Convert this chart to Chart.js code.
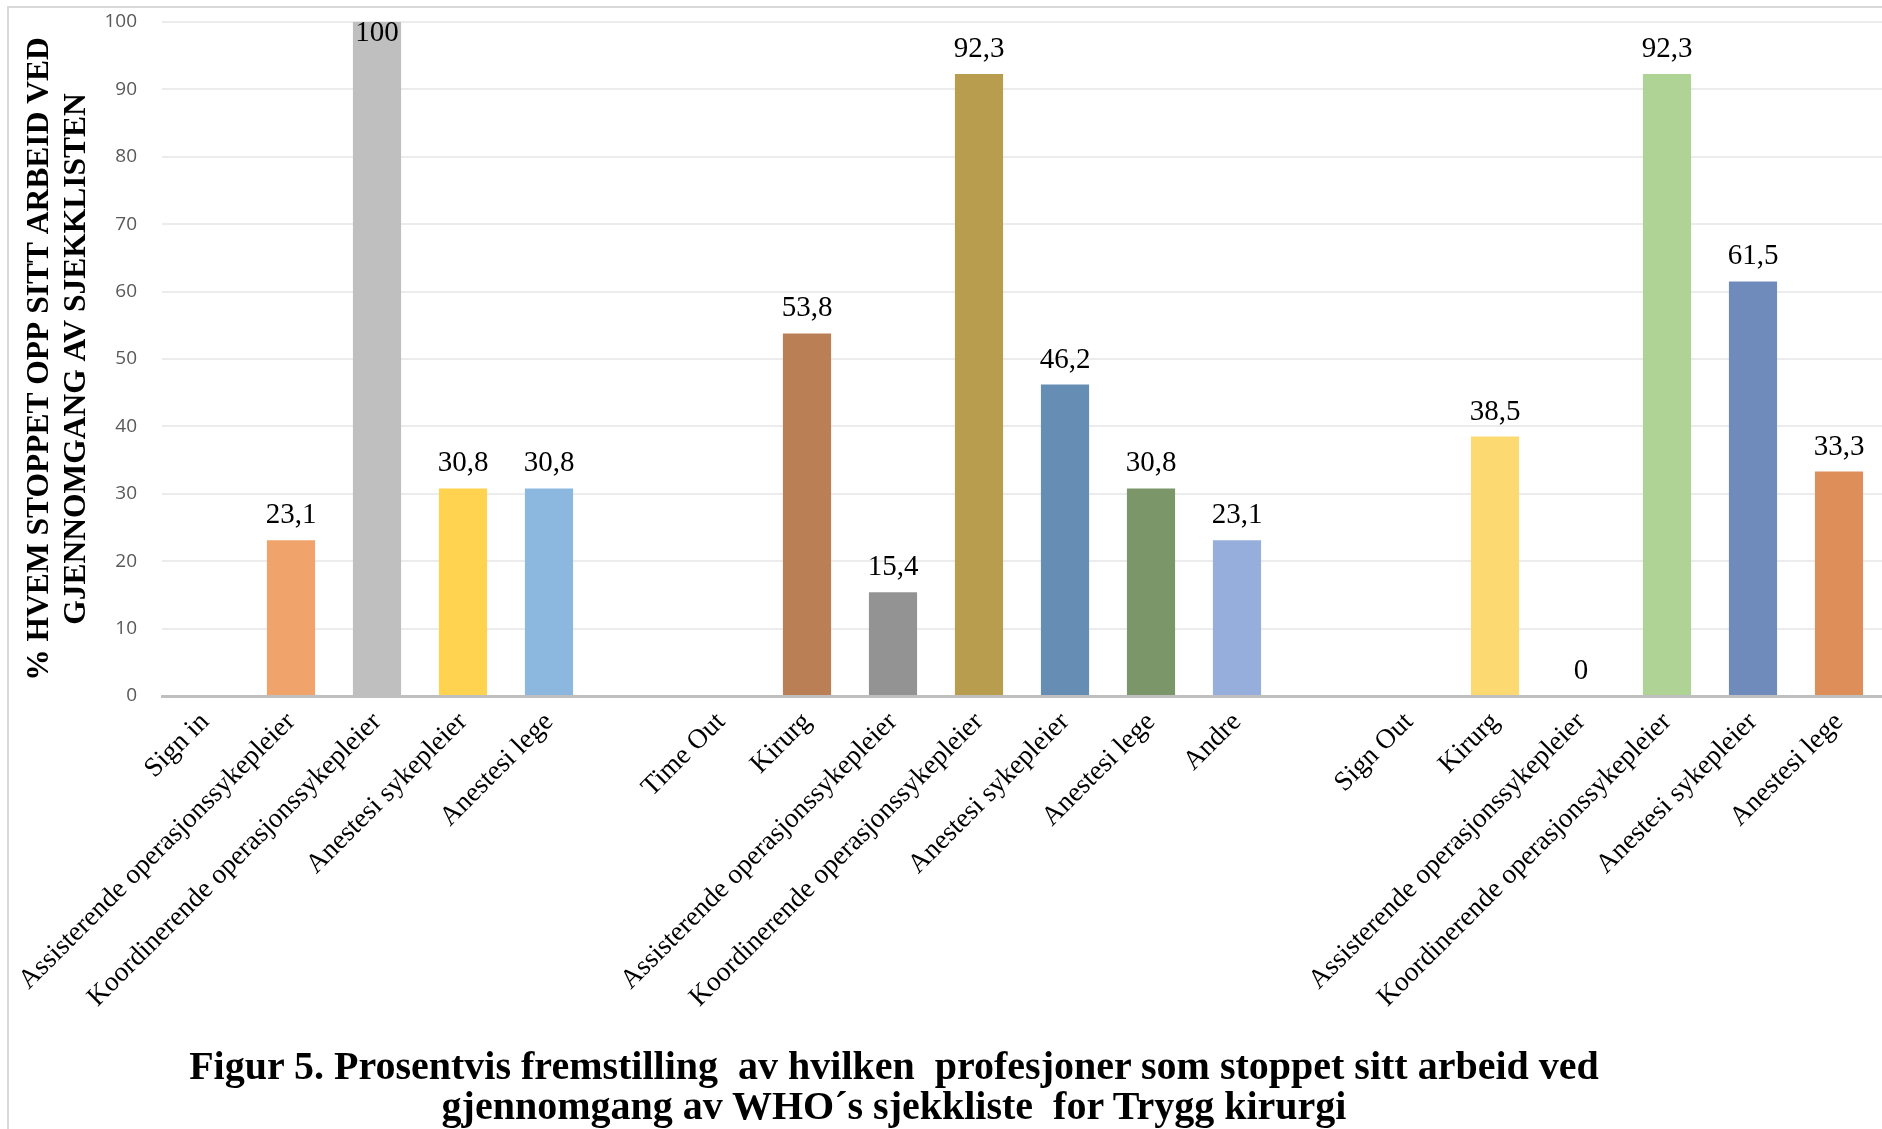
<!DOCTYPE html>
<html>
<head>
<meta charset="utf-8">
<title>Figur 5</title>
<script src="https://cdn.jsdelivr.net/npm/chart.js@4.4.0/dist/chart.umd.min.js"></script>
<style>
  html, body { margin: 0; padding: 0; background: #fff; }
  #wrap { position: relative; width: 1882px; height: 1129px; overflow: hidden; }
  #frame { position: absolute; left: 7px; top: 6px; width: 1900px; height: 1200px;
           border-left: 2px solid #d9d9d9; border-top: 2px solid #d9d9d9; }
  #chartBox { position: absolute; left: 0; top: 0; width: 1882px; height: 1129px; }
  #caption { position: absolute; left: 0; top: 1046px; width: 1788px; text-align: center;
             font: bold 40px "Liberation Serif", "Times New Roman", serif; line-height: 40px;
             white-space: pre; color: #000; }
</style>
</head>
<body>
<div id="wrap">
  <div id="frame"></div>
  <div id="chartBox"><canvas id="grafFigur5"></canvas></div>
  <div id="caption">Figur 5. Prosentvis fremstilling  av hvilken  profesjoner som stoppet sitt arbeid ved
gjennomgang av WHO´s sjekkliste  for Trygg kirurgi</div>
</div>

<script>
// kategorier langs x-aksen (tomme strenger = mellomrom mellom fasene)
const kategorier = [
  "Sign in", "Assisterende operasjonssykepleier", "Koordinerende operasjonssykepleier",
  "Anestesi sykepleier", "Anestesi lege", "",
  "Time Out", "Kirurg", "Assisterende operasjonssykepleier", "Koordinerende operasjonssykepleier",
  "Anestesi sykepleier", "Anestesi lege", "Andre", "",
  "Sign Out", "Kirurg", "Assisterende operasjonssykepleier", "Koordinerende operasjonssykepleier",
  "Anestesi sykepleier", "Anestesi lege"
];

// prosent som stoppet opp (null = ingen stolpe)
const verdier = [
  null, 23.1, 100, 30.8, 30.8, null,
  null, 53.8, 15.4, 92.3, 46.2, 30.8, 23.1, null,
  null, 38.5, 0, 92.3, 61.5, 33.3
];

const farger = [
  "#fff", "#f0a46c", "#bfbfbf", "#ffd24f", "#8cb8e0", "#fff",
  "#fff", "#ba7f55", "#939393", "#b89d4e", "#668eb4", "#7b9669", "#95aedb", "#fff",
  "#fff", "#fcda71", "#bfbfbf", "#aed395", "#6f8bbc", "#de8e59"
];

const yMin = 0, yMax = 100, ySteg = 10;

const yTittel = ["% HVEM STOPPET OPP SITT ARBEID VED", "GJENNOMGANG AV SJEKKLISTEN"];

// tall over stolpene, med komma som desimaltegn
const verdiEtiketter = {
  id: "verdiEtiketter",
  afterDatasetsDraw(chart) {
    const ctx = chart.ctx;
    const meta = chart.getDatasetMeta(0);
    ctx.save();
    ctx.font = '29px "Liberation Serif", serif';
    ctx.fillStyle = "#000";
    ctx.textAlign = "center";
    ctx.textBaseline = "alphabetic";
    meta.data.forEach((bar, i) => {
      const v = verdier[i];
      if (v === null) return;
      const y = Math.max(bar.y - 17, chart.chartArea.top + 19);
      ctx.fillText(String(v).replace(".", ","), bar.x, y);
    });
    ctx.restore();
  }
};

new Chart(document.getElementById("grafFigur5"), {
  type: "bar",
  data: {
    labels: kategorier,
    datasets: [{
      data: verdier,
      backgroundColor: farger,
      barPercentage: 0.56,
      categoryPercentage: 1.0
    }]
  },
  options: {
    responsive: true,
    maintainAspectRatio: false,
    animation: false,
    layout: { padding: { top: 22, left: 0, right: 0, bottom: 0 } },
    plugins: {
      legend: { display: false },
      tooltip: { enabled: false }
    },
    scales: {
      x: {
        grid: { display: false },
        border: { display: true, color: "#bfbfbf", width: 3 },
        ticks: {
          autoSkip: false,
          maxRotation: 45,
          minRotation: 45,
          padding: 2,
          color: "#000",
          font: { family: '"Liberation Serif", serif', size: 27.5 }
        },
        afterFit(scale) { scale.height = 1129 - 696; }
      },
      y: {
        min: yMin,
        max: yMax,
        grid: { color: "#ececec", lineWidth: 2, drawTicks: false },
        border: { display: false },
        ticks: {
          stepSize: ySteg,
          padding: 25,
          color: "#595959",
          font: { family: '"Open Sans", sans-serif', size: 19 }
        },
        title: {
          display: true,
          text: yTittel,
          color: "#000",
          font: { family: '"Liberation Serif", serif', size: 31.5, weight: "bold", lineHeight: 1.16 },
          padding: { top: 22, bottom: 0 }
        },
        afterFit(scale) {
          scale.width = 162;
          scale.paddingTop = 0;
          scale.paddingBottom = 0;
        }
      }
    }
  },
  plugins: [verdiEtiketter]
});
</script>
</body>
</html>
